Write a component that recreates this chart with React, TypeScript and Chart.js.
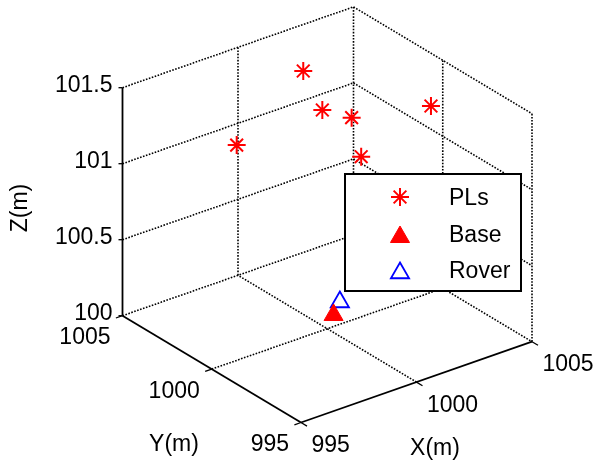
import React, { useEffect, useRef } from "react";
import { Chart, registerables } from "chart.js";
import { drawPoint } from "chart.js/helpers";

Chart.register(...registerables);

// ---- axis ticks ----
const xTicks = [995, 1000, 1005];
const yTicks = [995, 1000, 1005];
const zTicks = [100, 100.5, 101, 101.5];

// ---- series (metres) ----
const plX = [998.97, 1000.7, 1000.83, 1001.28, 1003.98, 1001.84];
const plY = [1003.74, 1002.25, 1001.35, 1000.29, 999.34, 1000.48];
const plZ = [101.0, 101.5, 101.3, 101.3, 101.3, 101.0];

const baseX = [1000.8];
const baseY = [1000.68];
const baseZ = [100.0];

const roverX = [1000.87];
const roverY = [1000.42];
const roverZ = [100.1];

const seriesLabels = ["PLs", "Base", "Rover"];
const axisTitleX = "X(m)";
const axisTitleY = "Y(m)";
const axisTitleZ = "Z(m)";

// ---- view (orthographic projection onto the canvas plane) ----
const W = 598;
const H = 462;
const xMin = xTicks[0], xMax = xTicks[xTicks.length - 1];
const yMin = yTicks[0], yMax = yTicks[yTicks.length - 1];
const zMin = zTicks[0], zMax = zTicks[zTicks.length - 1];
const ORIGIN = { x: 122.5, y: 315.7 }; // (xMin, yMax, zMin)
const UX = { x: 23.1, y: -8.08 };
const UY = { x: -17.85, y: -10.68 };
const UZ = { x: 0, y: -152 };

function proj(X: number, Y: number, Z: number) {
  const a = X - xMin, b = Y - yMax, c = Z - zMin;
  return {
    x: ORIGIN.x + a * UX.x + b * UY.x + c * UZ.x,
    y: ORIGIN.y + a * UX.y + b * UY.y + c * UZ.y,
  };
}

const FONT = '23px "Liberation Sans", Arial, sans-serif';

type P3 = [number, number, number];

function buildGrid(): P3[][] {
  const segs: P3[][] = [];
  for (const z of zTicks) {
    segs.push([[xMin, yMax, z], [xMax, yMax, z]]);
    segs.push([[xMax, yMax, z], [xMax, yMin, z]]);
  }
  for (const x of xTicks) if (x !== xMin) segs.push([[x, yMax, zMin], [x, yMax, zMax]]);
  for (const y of yTicks) if (y !== yMax) segs.push([[xMax, y, zMin], [xMax, y, zMax]]);
  for (const x of xTicks) if (x !== xMin && x !== xMax) segs.push([[x, yMin, zMin], [x, yMax, zMin]]);
  for (const y of yTicks) if (y !== yMin && y !== yMax) segs.push([[xMin, y, zMin], [xMax, y, zMin]]);
  return segs;
}

const axisSegs: P3[][] = [
  [[xMin, yMax, zMin], [xMin, yMin, zMin]],
  [[xMin, yMin, zMin], [xMax, yMin, zMin]],
  [[xMin, yMax, zMin], [xMin, yMax, zMax]],
];

const labelPlugin = {
  id: "labels3d",
  afterDraw(chart: any) {
    const ctx: CanvasRenderingContext2D = chart.ctx;
    ctx.save();
    // tick marks
    ctx.strokeStyle = "#000";
    ctx.lineWidth = 1.3;
    ctx.setLineDash([]);
    const ulen = (v: { x: number; y: number }) => Math.hypot(v.x, v.y);
    for (const z of zTicks) {
      const p = proj(xMin, yMax, z);
      ctx.beginPath();
      ctx.moveTo(p.x, p.y);
      ctx.lineTo(p.x - 4, p.y);
      ctx.stroke();
    }
    for (const y of yTicks) {
      const p = proj(xMin, y, zMin);
      const l = ulen(UX);
      ctx.beginPath();
      ctx.moveTo(p.x, p.y);
      ctx.lineTo(p.x - (UX.x / l) * 7, p.y - (UX.y / l) * 7);
      ctx.stroke();
    }
    for (const x of xTicks) {
      const p = proj(x, yMin, zMin);
      const l = ulen(UY);
      ctx.beginPath();
      ctx.moveTo(p.x, p.y);
      ctx.lineTo(p.x - (UY.x / l) * 7, p.y - (UY.y / l) * 7);
      ctx.stroke();
    }

    // tick labels
    ctx.fillStyle = "#000";
    ctx.font = FONT;
    ctx.textBaseline = "alphabetic";
    ctx.textAlign = "right";
    for (const z of zTicks) {
      const p = proj(xMin, yMax, z);
      ctx.fillText(String(z), p.x - 10, p.y + 4);
    }
    for (const y of yTicks) {
      const p = proj(xMin, y, zMin);
      ctx.fillText(String(y), p.x - 12, p.y + 28.7);
    }
    ctx.textAlign = "left";
    for (const x of xTicks) {
      const p = proj(x, yMin, zMin);
      ctx.fillText(String(x), p.x + 10.5, p.y + 29.7);
    }

    // axis titles
    ctx.textAlign = "center";
    ctx.textBaseline = "middle";
    ctx.fillText(axisTitleX, 435, 449);
    ctx.fillText(axisTitleY, 174, 445);
    ctx.save();
    ctx.translate(21, 208);
    ctx.rotate(-Math.PI / 2);
    ctx.fillText(axisTitleZ, 0, 0);
    ctx.restore();

    // legend
    const lx = 345, ly = 174, lw = 176, lh = 117;
    ctx.fillStyle = "#fff";
    ctx.fillRect(lx, ly, lw, lh);
    ctx.strokeStyle = "#000";
    ctx.lineWidth = 2;
    ctx.strokeRect(lx, ly, lw, lh);
    const rows = [197, 234, 270];
    const ds = chart.data.datasets;
    for (let i = 0; i < 3; i++) {
      const d = ds[i];
      ctx.fillStyle = d.backgroundColor;
      ctx.strokeStyle = d.borderColor;
      ctx.lineWidth = d.borderWidth;
      drawPoint(ctx, { pointStyle: d.pointStyle, rotation: 0, radius: d.pointRadius, borderWidth: d.borderWidth } as any, 400, rows[i] + (i > 0 ? 3 : 0));
      ctx.fillStyle = "#000";
      ctx.font = FONT;
      ctx.textAlign = "left";
      ctx.textBaseline = "alphabetic";
      ctx.fillText(seriesLabels[i], 449, rows[i] + 8.3);
    }
    ctx.restore();
  },
};

export default function App() {
  const ref = useRef<HTMLCanvasElement | null>(null);
  useEffect(() => {
    if (!ref.current) return;
    const pts = (xs: number[], ys: number[], zs: number[]) => xs.map((x, i) => proj(x, ys[i], zs[i]));
    const lineDs = (seg: P3[], dashed: boolean) => ({
      data: seg.map((p) => proj(p[0], p[1], p[2])),
      showLine: true,
      borderColor: "#000",
      borderWidth: dashed ? 1.6 : 1.8,
      borderDash: dashed ? [1.6, 1.5] : [],
      pointRadius: 0,
      fill: false,
      clip: false as any,
    });
    const chart = new Chart(ref.current, {
      type: "scatter",
      data: {
        datasets: [
          {
            label: seriesLabels[0],
            data: pts(plX, plY, plZ),
            pointStyle: "star",
            pointRadius: 9,
            borderWidth: 2,
            borderColor: "#ff0000",
            backgroundColor: "#ff0000",
            clip: false as any,
          } as any,
          {
            label: seriesLabels[1],
            data: pts(baseX, baseY, baseZ),
            pointStyle: "triangle",
            pointRadius: 11,
            borderWidth: 1,
            borderColor: "#ff0000",
            backgroundColor: "#ff0000",
            clip: false as any,
          },
          {
            label: seriesLabels[2],
            data: pts(roverX, roverY, roverZ),
            pointStyle: "triangle",
            pointRadius: 10.5,
            borderWidth: 1.8,
            borderColor: "#0000ff",
            backgroundColor: "rgba(0,0,0,0)",
            clip: false as any,
          },
          ...axisSegs.map((s) => lineDs(s, false)),
          ...buildGrid().map((s) => lineDs(s, true)),
        ] as any,
      },
      options: {
        responsive: false,
        animation: false,
        events: [],
        layout: { padding: 0, autoPadding: false },
        plugins: { legend: { display: false }, tooltip: { enabled: false } },
        scales: {
          x: { type: "linear", min: 0, max: W, display: false },
          y: { type: "linear", min: 0, max: H, reverse: true, display: false },
        },
      },
      plugins: [labelPlugin],
    });
    return () => chart.destroy();
  }, []);
  return (
    <div style={{ position: "absolute", left: 0, top: 0, width: W, height: H, background: "#fff" }}>
      <canvas ref={ref} width={W} height={H} style={{ width: W, height: H }} />
    </div>
  );
}
